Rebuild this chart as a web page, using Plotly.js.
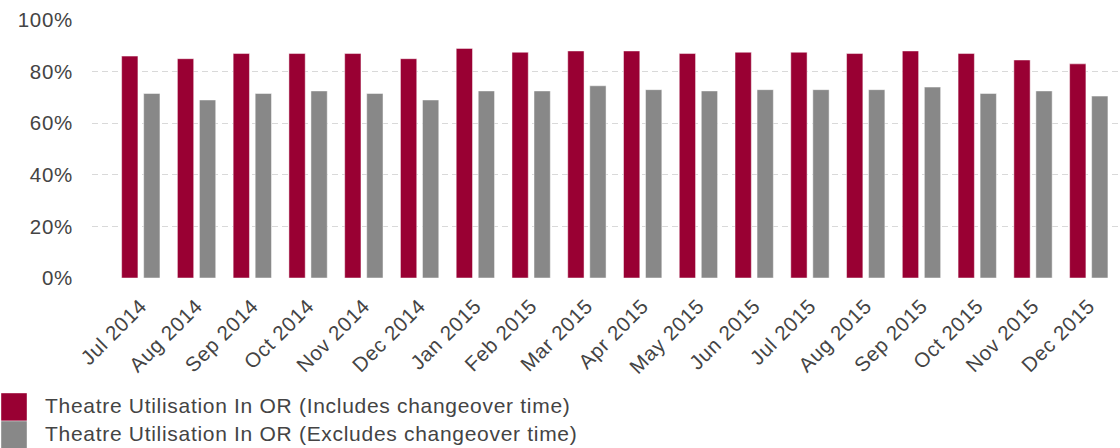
<!DOCTYPE html>
<html>
<head>
<meta charset="utf-8">
<script src="https://cdn.plot.ly/plotly-3.0.1.min.js"></script>
<style>
  html, body { margin: 0; padding: 0; background: #fff; }
  #chart { width: 1120px; height: 448px; }
  text { letter-spacing: 0.7px; }
</style>
</head>
<body>
<div id="chart"></div>
<script>
// ---- data ----
const months = ["Jul 2014","Aug 2014","Sep 2014","Oct 2014","Nov 2014","Dec 2014",
  "Jan 2015","Feb 2015","Mar 2015","Apr 2015","May 2015","Jun 2015",
  "Jul 2015","Aug 2015","Sep 2015","Oct 2015","Nov 2015","Dec 2015"];
const includesName = "Theatre Utilisation In OR (Includes changeover time)";
const excludesName = "Theatre Utilisation In OR (Excludes changeover time)";
const includesValues = [86, 85, 87, 87, 87, 85, 89, 87.5, 88, 88, 87, 87.5, 87.5, 87, 88, 87, 84.5, 83];
const excludesValues = [71.5, 69, 71.5, 72.5, 71.5, 69, 72.5, 72.5, 74.5, 73, 72.5, 73, 73, 73, 74, 71.5, 72.5, 70.5];
const yTicks = [0, 20, 40, 60, 80, 100];

const RED = "#990033";
const GREY = "#888888";
const FONT = "Liberation Sans, Arial, sans-serif";

// plot area in pixels
const W = 1120, H = 448;
const L = 92, R = 0, T = 20, B = 170;
const pw = W - L - R, ph = H - T - B;
const px2x = p => (p - L) / pw;
const py2y = p => (H - B - p) / ph;

const traces = [
  { type: "bar", name: includesName, x: months, y: includesValues,
    marker: { color: RED, line: { color: "rgba(255,255,255,0.6)", width: 0.8 } },
    showlegend: false, hoverinfo: "x+y" },
  { type: "bar", name: excludesName, x: months, y: excludesValues,
    marker: { color: GREY, line: { color: "rgba(255,255,255,0.6)", width: 0.8 } },
    showlegend: false, hoverinfo: "x+y" }
];

// manual legend (large swatches like the reference)
const legendItems = [
  { name: includesName, color: RED },
  { name: excludesName, color: GREY }
];
const shapes = [];
const annotations = [];
legendItems.forEach((it, i) => {
  const top = 393 + i * 28;
  shapes.push({ type: "rect", xref: "paper", yref: "paper",
    x0: px2x(1), x1: px2x(27), y0: py2y(top), y1: py2y(top + 28),
    fillcolor: it.color, line: { color: "rgba(255,255,255,0.5)", width: 0.8 }, layer: "above" });
  annotations.push({ xref: "paper", yref: "paper", x: px2x(43), y: py2y(top + 12),
    xanchor: "left", yanchor: "middle", showarrow: false, text: it.name,
    font: { family: FONT, size: 21, color: "#444" } });
});

const layout = {
  width: W, height: H,
  margin: { l: L, r: R, t: T, b: B, pad: 0 },
  paper_bgcolor: "#fff", plot_bgcolor: "#fff",
  barmode: "group", bargap: 0.21, bargroupgap: 0.26,
  showlegend: false,
  xaxis: {
    type: "category", range: [-0.875, 17.56],
    tickangle: -45, showgrid: false, zeroline: false, showline: false, ticks: "",
    tickfont: { family: FONT, size: 20.5, color: "#444" },
    ticklabelstandoff: 11
  },
  yaxis: {
    range: [0, 100], tickvals: yTicks, ticktext: yTicks.map(v => v + "%"),
    showgrid: true, gridcolor: "#d9d9d9", griddash: "6px,4px", gridwidth: 1,
    zeroline: false, showline: false, ticks: "",
    tickfont: { family: FONT, size: 20.5, color: "#444" },
    ticklabelstandoff: 18
  },
  shapes: shapes,
  annotations: annotations
};

Plotly.newPlot("chart", traces, layout, { displayModeBar: false, staticPlot: true });
</script>
</body>
</html>
